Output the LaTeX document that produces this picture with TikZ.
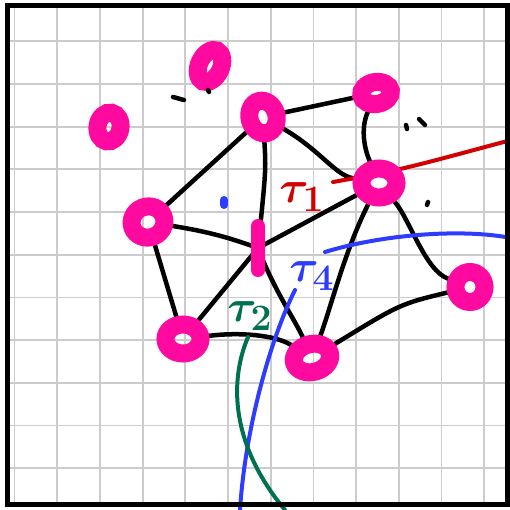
\documentclass[tikz,border=0pt]{standalone}
\usetikzlibrary{shapes.geometric}
\definecolor{pink1}{RGB}{255, 10, 160}
\definecolor{red1}{RGB}{210, 0, 0}
\definecolor{blue1}{RGB}{45, 60, 255}
\definecolor{green1}{RGB}{0, 112, 80}
\definecolor{gray1}{RGB}{204, 204, 204}
\pgfdeclarelayer{background}
\pgfsetlayers{background,main}

\begin{document}
\begin{tikzpicture}[
    x=1pt, y=-1pt,
    blob/.style={ellipse, draw=pink1, line width=18pt, inner sep=0pt},
    bar/.style={rectangle, fill=pink1, rounded corners=7pt, inner sep=0pt,
      minimum width=14pt, minimum height=58pt},
    link/.style={line width=4.5pt, line cap=round},
    tcurve/.style={line width=4pt, line cap=round, draw=#1},
    tlabel/.style={font=\Huge\boldmath, scale=1.8, text=#1, inner sep=0pt},
    gridline/.style={line width=1.8pt, gray1},
    stroke/.style={line width=4.5pt, line cap=round},
  ]
  \useasboundingbox (0,0) rectangle (510,509);

  % Nodes
  \node[blob, minimum width=22pt, minimum height=34pt, rotate=-25] (A) at (210,66) {};
  \node[blob, minimum width=23pt, minimum height=29pt, rotate=-10] (B) at (109,127) {};
  \node[blob, minimum width=27pt, minimum height=33pt, rotate=15] (C) at (263,117) {};
  \node[blob, minimum width=30pt, minimum height=22pt, rotate=10] (D) at (376,93) {};
  \node[blob, minimum width=35pt, minimum height=29pt] (E) at (379,183) {};
  \node[blob, minimum width=33pt, minimum height=31pt, rotate=20] (F) at (148,222) {};
  \node[bar] (G) at (258,248) {};
  \node[blob, minimum width=29pt, minimum height=30pt] (H) at (470,287) {};
  \node[blob, minimum width=35pt, minimum height=29pt] (I) at (183,339) {};
  \node[blob, minimum width=37pt, minimum height=28pt, rotate=15] (J) at (312,358) {};

  % Free ends of the curves
  \coordinate (r0) at (333,182);
  \coordinate (r1) at (511,140);
  \coordinate (b0) at (325,252);
  \coordinate (b1) at (511,238);
  \coordinate (b2) at (295,290);
  \coordinate (b3) at (240,510);
  \coordinate (g0) at (248,337);
  \coordinate (g1) at (285,510);

  \begin{pgfonlayer}{background}
    % Grid
    \begin{scope}
      \clip (6,5) rectangle (507,504);
      \foreach \k in {0,...,11}
        \draw[gridline] ({14.5+42.7*\k},0) -- ({14.5+42.7*\k},509);
      \foreach \k in {1,...,11}
        \draw[gridline] (0,{-1.5+42.7*\k}) -- (510,{-1.5+42.7*\k});
    \end{scope}

    % Edges
    \draw[link] (C) -- (D);
    \draw[link] (C) -- (F);
    \draw[link] (C) .. controls (320,150) and (335,175) .. (E);
    \draw[link] (C) .. controls (266,170) .. (G.center);
    \draw[link] (D) .. controls (360,130) and (365,150) .. (E);
    \draw[link] (E) -- (G.center);
    \draw[link] (F) .. controls (210,232) and (230,238) .. (G.center);
    \draw[link] (F) -- (I);
    \draw[link] (G.center) -- (I);
    \draw[link] (G.center) .. controls (274,290) and (295,320) .. (J);
    \draw[link] (E) .. controls (345,250) and (330,310) .. (J);
    \draw[link] (E) .. controls (410,220) and (425,270) .. (H);
    \draw[link] (H) .. controls (400,304) .. (J);
    \draw[link] (I) .. controls (240,332) and (275,335) .. (J);

    % Curves
    \draw[tcurve=red1] (r0) .. controls (400,170) .. (r1);
    \draw[tcurve=blue1] (b0) .. controls (380,235) and (460,228) .. (b1);
    \draw[tcurve=blue1] (b2) .. controls (270,340) and (245,430) .. (b3);
    \draw[tcurve=green1] (g0) .. controls (229,382) and (231,445) .. (g1);
  \end{pgfonlayer}

  % Labels
  \node[tlabel=red1] (t1) at (302,197) {$\tau_1$};
  \node[tlabel=blue1] (t4) at (312,276) {$\tau_4$};
  \node[tlabel=green1] (t2) at (250,316) {$\tau_2$};

  % Stray marks
  \draw[stroke] (173,97) -- (184,100);
  \draw[stroke] (208,90) -- (209,92);
  \draw[stroke] (406,125) -- (407,129);
  \draw[stroke] (419,119) -- (425,125);
  \draw[stroke] (428,202) -- (427,205);
  \draw[stroke, blue1, line width=8pt] (224,200) -- (224,205);

  % Frame
  \draw[line width=5pt] (7.5,5) rectangle (507,504);
\end{tikzpicture}
\end{document}
